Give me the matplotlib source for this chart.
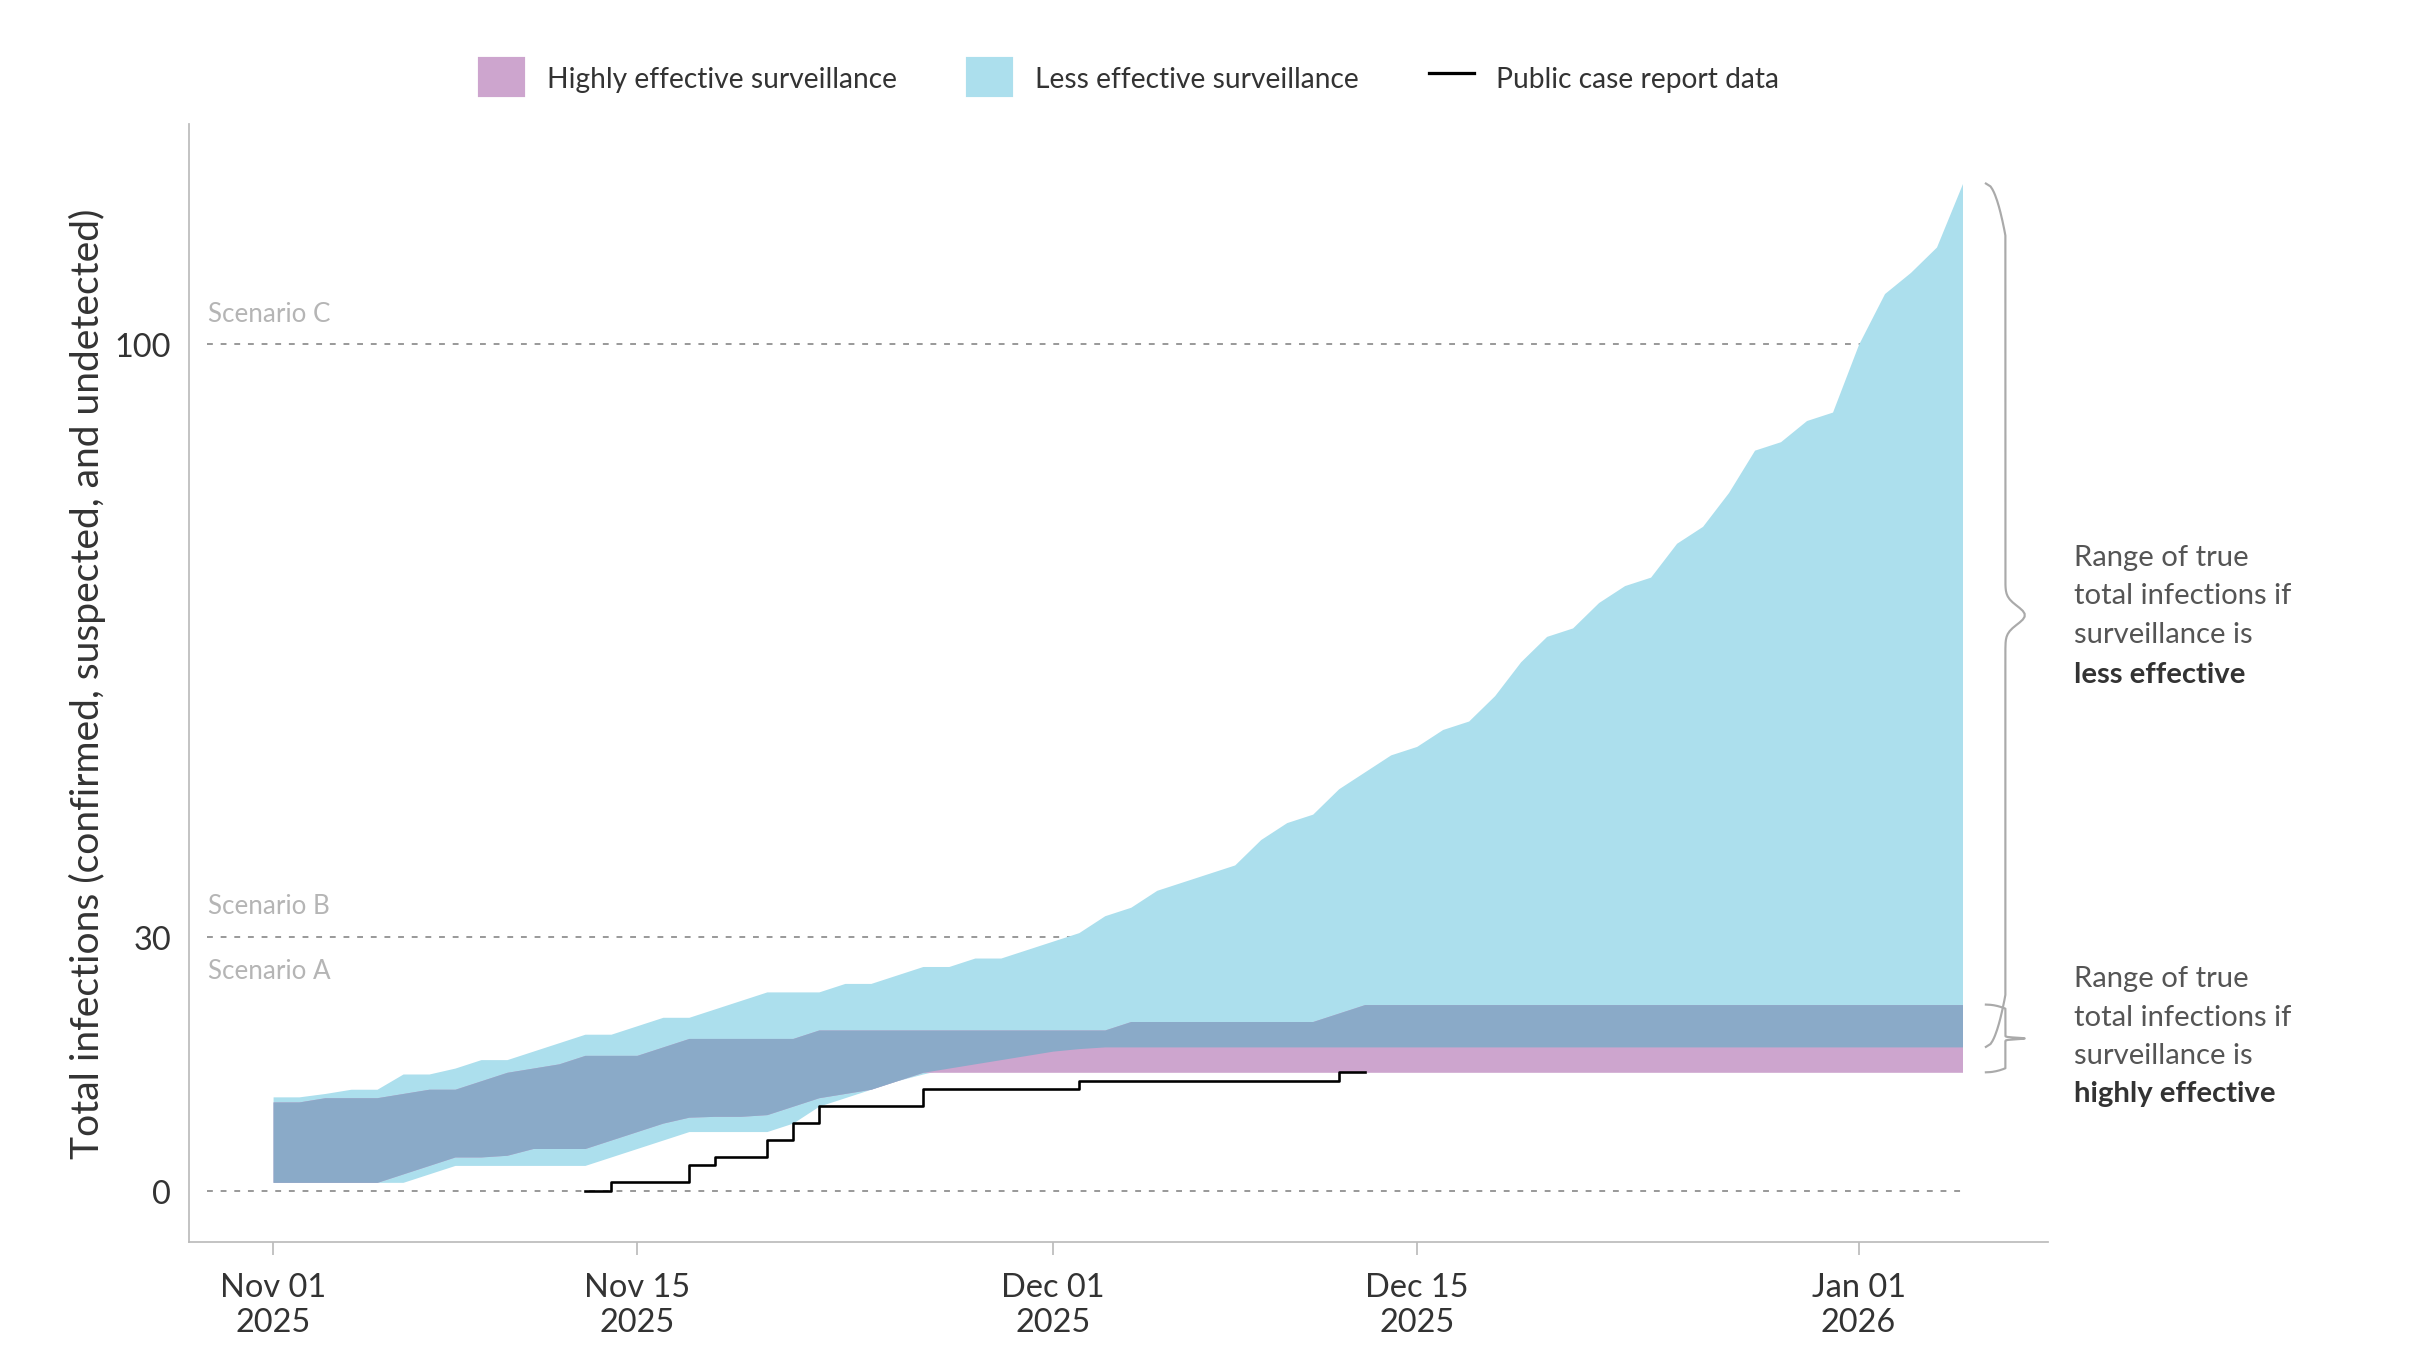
import numpy as np
import pandas as pd
import matplotlib.pyplot as plt
import matplotlib.dates as mdates
from matplotlib.patches import Patch
from matplotlib.lines import Line2D

plt.rcParams['font.family'] = ['Lato', 'DejaVu Sans']

# daily values, Nov 01 2025 .. Jan 05 2026
dates = pd.date_range('2025-11-01', periods=66, freq='D')

less_upper = [11.1, 11.1, 11.5, 12, 12, 13.8, 13.8, 14.5, 15.5, 15.5, 16.5, 17.5, 18.5, 18.5,
              19.5, 20.5, 20.5, 21.5, 22.5, 23.5, 23.5, 23.5, 24.5, 24.5, 25.5, 26.5, 26.5,
              27.5, 27.5, 28.5, 29.5, 30.5, 32.5, 33.5, 35.5, 36.5, 37.5, 38.5, 41.5, 43.5,
              44.5, 47.5, 49.5, 51.5, 52.5, 54.5, 55.5, 58.5, 62.5, 65.5, 66.5, 69.5, 71.5,
              72.5, 76.5, 78.5, 82.5, 87.5, 88.5, 91, 92, 100, 106, 108.5, 111.5, 119]
less_lower = [1, 1, 1, 1, 1, 1, 2, 3, 3, 3, 3, 3, 3, 4, 5, 6, 7, 7, 7, 7, 8, 10, 11, 12, 13,
              13.8, 14.5, 15, 15.5, 16, 16.5, 16.8] + [17] * 34
high_upper = [10.5, 10.5, 11, 11, 11, 11.5, 12, 12, 13, 14, 14.5, 15, 16, 16, 16, 17, 18, 18,
              18, 18, 18] + [19] * 12 + [20] * 8 + [21] + [22] * 24
high_lower = [1, 1, 1, 1, 1, 2, 3, 4, 4, 4.2, 5, 5, 5, 6, 7, 8, 8.7, 8.8, 8.8, 9, 10, 11,
              11.5, 12, 13] + [14] * 41

case_dates = pd.to_datetime(['2025-11-13', '2025-11-14', '2025-11-17', '2025-11-18', '2025-11-20',
                             '2025-11-21', '2025-11-22', '2025-11-26', '2025-12-02', '2025-12-12',
                             '2025-12-13'])
case_values = [0, 1, 3, 4, 6, 8, 10, 12, 13, 14, 14]

lu, ll = np.array(less_upper), np.array(less_lower)
hu, hl = np.array(high_upper), np.array(high_lower)
ov_lo = np.maximum(ll, hl)
ov_hi = np.minimum(lu, hu)

c_less, c_high, c_over = '#acdfed', '#cda5ce', '#8aaac8'
txt = '#333333'

fig = plt.figure(figsize=(15.5, 8.724), dpi=156)
ax = fig.add_axes([0.078, 0.087, 0.769, 0.821])

ax.fill_between(dates, ll, lu, color=c_less, lw=0)
ax.fill_between(dates, hl, hu, color=c_high, lw=0)
ax.fill_between(dates, ov_lo, ov_hi, where=ov_hi > ov_lo, color=c_over, lw=0)
ax.step(case_dates, case_values, where='post', color='black', lw=1.2)

for yv, lab, off in [(100, 'Scenario C', 2.2), (30, 'Scenario B', 2.2), (30, 'Scenario A', -4)]:
    ax.text(pd.Timestamp('2025-10-29 12:00'), yv + off, lab, color='#b5b5b5', fontsize=12,
            va='bottom' if off > 0 else 'center')
for yv in [0, 30, 100]:
    ax.axhline(yv, color='#999999', lw=0.9, ls=(0, (3, 4)), zorder=0,
               xmin=0.01, xmax=0.955)

ax.set_xlim(pd.Timestamp('2025-10-28 18:00'), pd.Timestamp('2026-01-08 07:00'))
ax.set_ylim(-6, 126)
ax.set_yticks([0, 30, 100])
ax.set_xticks(pd.to_datetime(['2025-11-01', '2025-11-15', '2025-12-01', '2025-12-15', '2026-01-01']))
ax.xaxis.set_major_formatter(mdates.DateFormatter('%b %d\n%Y'))
ax.tick_params(labelsize=15, colors=txt, length=0, pad=8)
ax.tick_params(axis='x', length=6, color='#bbbbbb')
for s in ['top', 'right']:
    ax.spines[s].set_visible(False)
for s in ['left', 'bottom']:
    ax.spines[s].set_color('#bbbbbb')
ax.set_ylabel('Total infections (confirmed, suspected, and undetected)', fontsize=18, color=txt)


def brace(y0, y1, w):
    ys = np.linspace(y0, y1, 300)
    t = (ys - y0) / (y1 - y0)
    r = 0.06
    xv = np.where(t < r, (t / r) ** 0.5, np.where(t > 1 - r, ((1 - t) / r) ** 0.5, 1.0))
    tip = np.exp(-((t - 0.5) / 0.015) ** 2)
    xs = w * 0.5 * xv + w * 0.5 * tip
    xs = mdates.date2num(pd.Timestamp('2026-01-05')) + 0.9 + xs
    ax.plot(xs, ys, color='#aaaaaa', lw=1, clip_on=False)


brace(119, 17, 1.5)
brace(22, 14, 1.5)

xt = mdates.date2num(pd.Timestamp('2026-01-08')) + 1.3
for lines, bold_line in [((74.9, 70.4, 65.8), 61.1), ((25.1, 20.5, 16.0), 11.5)]:
    labels = ['Range of true', 'total infections if', 'surveillance is']
    for yv, s in zip(lines, labels):
        ax.text(xt, yv, s, fontsize=13.5, color='#555555', va='center', clip_on=False)
    ax.text(xt, bold_line, 'less effective' if bold_line > 30 else 'highly effective',
            fontsize=13.5, color=txt, va='center', fontweight='bold', clip_on=False)

handles = [Patch(color=c_high, label='Highly effective surveillance'),
           Patch(color=c_less, label='Less effective surveillance'),
           Line2D([], [], color='black', lw=1.5, label='Public case report data')]
fig.legend(handles=handles, loc='upper center', bbox_to_anchor=(0.467, 0.975), ncol=3,
           frameon=False, fontsize=13, handlelength=1.6, handleheight=1.7,
           columnspacing=2.5, labelcolor=txt)

fig.savefig('out.png', dpi=156)
